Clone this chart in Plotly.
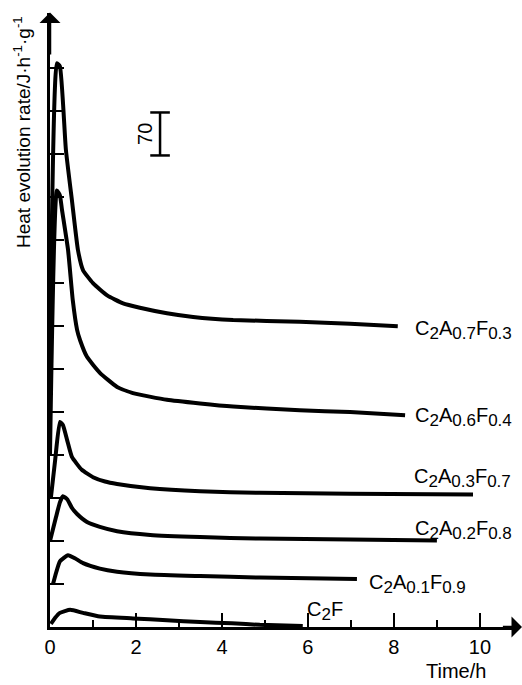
import plotly.graph_objects as go

# ---- data ----
# time in h, rate (relative to each curve's own baseline) in J h^-1 g^-1
t_c2a07 = [0.0, 0.16, 0.23, 0.37, 0.51, 0.65, 0.77, 1.0, 1.33, 1.70, 2.09, 2.72, 3.33, 4.26, 5.81, 6.98, 8.09]
v_c2a07 = [0, 498, 493, 357, 275, 194, 161, 140, 120, 107, 100, 91, 85, 80, 77, 74, 70]

t_c2a06 = [0.0, 0.16, 0.23, 0.28, 0.42, 0.53, 0.63, 0.70, 0.86, 1.16, 1.56, 1.93, 2.72, 3.49, 4.26, 5.81, 6.98, 8.26]
v_c2a06 = [0, 431, 423, 399, 334, 252, 204, 187, 160, 134, 111, 101, 90, 84, 79, 73, 70, 65]

t_c2a03 = [0.02, 0.12, 0.23, 0.30, 0.40, 0.51, 0.74, 1.0, 1.28, 1.56, 2.33, 3.49, 4.88, 6.98, 9.84]
v_c2a03 = [0, 62, 124, 119, 94, 67, 46, 34, 27, 23, 16, 11, 8.5, 7, 6]

t_c2a02 = [0.0, 0.14, 0.23, 0.30, 0.40, 0.51, 0.63, 0.86, 1.16, 1.56, 2.33, 3.49, 4.88, 6.98, 9.0]
v_c2a02 = [0, 39, 63, 73, 68, 54, 44, 31, 23, 16, 10, 6.5, 4, 2.5, 1]

t_c2a01 = [0.07, 0.14, 0.23, 0.42, 0.58, 0.77, 1.16, 1.56, 2.33, 3.49, 4.88, 7.14]
v_c2a01 = [0, 18, 37, 47, 42, 34, 25, 20, 15.5, 13, 10.5, 8]

t_c2f = [0.02, 0.12, 0.23, 0.47, 0.77, 1.16, 1.93, 2.72, 3.49, 4.23, 4.88, 5.88]
v_c2f = [5, 15, 23, 28, 23, 17, 14, 11, 8, 6, 3.5, 1.5]

curve_names = ["C<sub>2</sub>A<sub>0.7</sub>F<sub>0.3</sub>",
               "C<sub>2</sub>A<sub>0.6</sub>F<sub>0.4</sub>",
               "C<sub>2</sub>A<sub>0.3</sub>F<sub>0.7</sub>",
               "C<sub>2</sub>A<sub>0.2</sub>F<sub>0.8</sub>",
               "C<sub>2</sub>A<sub>0.1</sub>F<sub>0.9</sub>",
               "C<sub>2</sub>F"]
curve_times = [t_c2a07, t_c2a06, t_c2a03, t_c2a02, t_c2a01, t_c2f]
curve_values = [v_c2a07, v_c2a06, v_c2a03, v_c2a02, v_c2a01, v_c2f]
baseline_offsets = [420, 280, 210, 140, 70, 0]   # vertical shift of each curve

# label anchor (time, shifted rate)
label_t = [8.44, 8.44, 8.42, 8.44, 7.37, 5.93]
label_y = [483, 342, 243, 158, 70, 26]

x_major_ticks = [0, 2, 4, 6, 8, 10]
y_ticks = [70 * i for i in range(1, 14)]
scale_value = 70
scale_bar_t = 2.56
scale_bar_y0 = 768

FONT = "Liberation Sans"


def big_sub(label):
    # make subscripts nearly as large as the main text, as in the drawing
    return label.replace("<sub>", "<sub><span style='font-size:17px'>").replace("</sub>", "</span></sub>")


fig = go.Figure()
for name, ts, vs, off in zip(curve_names, curve_times, curve_values, baseline_offsets):
    fig.add_trace(go.Scatter(
        x=ts, y=[v + off for v in vs], mode="lines", name=name,
        line=dict(color="black", width=4, shape="spline", smoothing=0.45),
        showlegend=False, hoverinfo="skip"))

# scale bar
fig.add_trace(go.Scatter(
    x=[scale_bar_t, scale_bar_t], y=[scale_bar_y0, scale_bar_y0 + scale_value],
    mode="lines+markers",
    line=dict(color="black", width=2.5),
    marker=dict(symbol="line-ew", size=14, line=dict(width=2.5, color="black")),
    showlegend=False, hoverinfo="skip"))

annotations = []
for name, lt, ly in zip(curve_names, label_t, label_y):
    annotations.append(dict(x=lt, y=ly, xref="x", yref="y", text=big_sub(name), showarrow=False,
                            xanchor="left", yanchor="middle",
                            font=dict(family=FONT, size=20, color="black")))
annotations.append(dict(x=scale_bar_t - 0.35, y=scale_bar_y0 + scale_value / 2, xref="x", yref="y",
                        text=str(scale_value), textangle=-90, showarrow=False,
                        xanchor="center", yanchor="middle",
                        font=dict(family=FONT, size=20, color="black")))
# axis arrowheads
annotations.append(dict(x=0, y=1001, ax=0, ay=930, xref="x", yref="y", axref="x", ayref="y",
                        text="", showarrow=True, arrowhead=1, arrowsize=1.4, arrowwidth=2.5,
                        arrowcolor="black"))
annotations.append(dict(x=10.98, y=0, ax=10.5, ay=0, xref="x", yref="y", axref="x", ayref="y",
                        text="", showarrow=True, arrowhead=1, arrowsize=1.4, arrowwidth=2.5,
                        arrowcolor="black"))
# axis titles
annotations.append(dict(x=(456 - 50) / 466, y=(627 - 671) / 614, xref="paper", yref="paper",
                        text="Time/h", showarrow=False, xanchor="center", yanchor="middle",
                        font=dict(family=FONT, size=20, color="black")))
annotations.append(dict(x=(22 - 50) / 466, y=(627 - 132) / 614, xref="paper", yref="paper",
                        text="Heat evolution rate/J·h<sup>-1</sup>·g<sup>-1</sup>",
                        textangle=-90, showarrow=False, xanchor="center", yanchor="middle",
                        font=dict(family=FONT, size=19, color="black")))

fig.update_layout(
    width=522, height=685,
    margin=dict(l=50, r=6, t=13, b=58),
    paper_bgcolor="white", plot_bgcolor="white",
    annotations=annotations,
    xaxis=dict(range=[0, 10.84], showline=True, linecolor="black", linewidth=2.5,
               tickvals=x_major_ticks, ticks="inside", ticklen=14, tickwidth=2, tickcolor="black",
               showgrid=False, zeroline=False,
               tickfont=dict(family=FONT, size=20, color="black"),
               minor=dict(tick0=0, dtick=1, ticks="inside", ticklen=7, tickwidth=2, tickcolor="black")),
    yaxis=dict(range=[0, 1000], showline=True, linecolor="black", linewidth=2.5,
               tickvals=y_ticks, ticks="inside", ticklen=14, tickwidth=2, tickcolor="black",
               showticklabels=False, showgrid=False, zeroline=False),
)

fig.write_html("out.html")
